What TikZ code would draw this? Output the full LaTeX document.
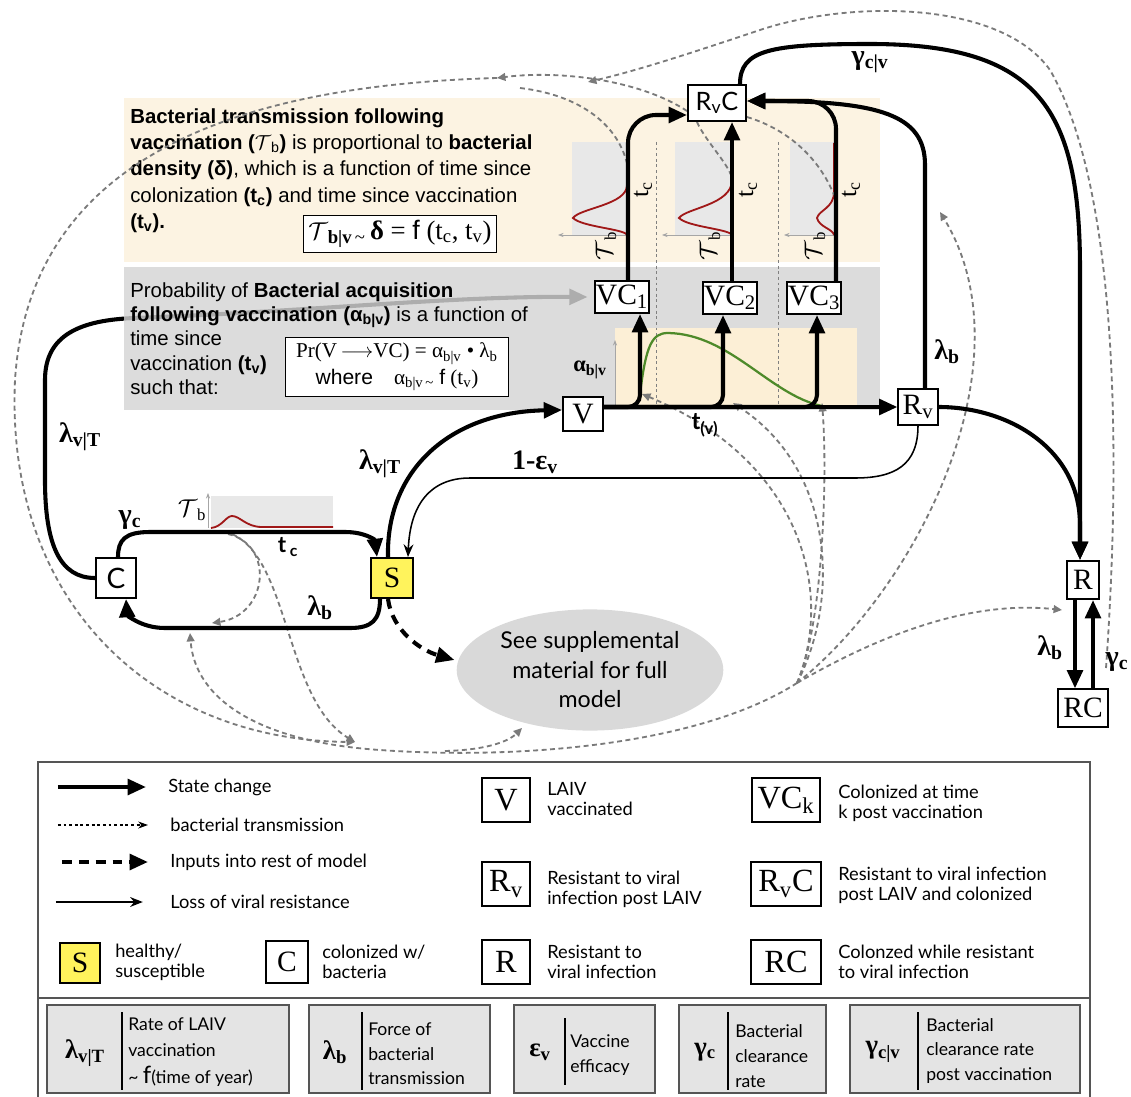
\documentclass[tikz,border=0pt]{standalone}
\usepackage{fontspec}
\setmainfont{Liberation Serif}
\setsansfont{Liberation Sans}
\newfontfamily\legendfont{Lato}
\usetikzlibrary{arrows.meta}
\usetikzlibrary{shapes.geometric}
\newcommand{\fsize}[1]{\fontsize{#1}{#1}\selectfont}
\definecolor{panelbeige}{HTML}{FCF3E2}
\definecolor{innerbeige}{HTML}{FCEFD6}
\definecolor{panelgray}{HTML}{D4D4D4}
\definecolor{plotgray}{HTML}{E8E8E8}
\definecolor{sympyellow}{HTML}{FFF35C}
\definecolor{curvered}{HTML}{A01818}
\definecolor{curvegreen}{HTML}{4E8A2A}
\definecolor{transgray}{HTML}{7A7A7A}
\definecolor{framegray}{HTML}{555555}
\definecolor{keygray}{HTML}{E4E4E4}
\definecolor{ellgray}{HTML}{D9D9D9}
\pgfdeclarelayer{under}
\pgfdeclarelayer{panel}
\pgfdeclarelayer{top}
\pgfsetlayers{under,panel,main,top}
\tikzset{
  stbox/.style={draw, line width=1.4pt, fill=white, inner sep=1pt, font=\fsize{21}},
  statechg/.style={line width=2.9pt, -{Triangle[length=13pt,width=11pt]}},
  lossres/.style={line width=1.1pt, -{Stealth[length=9pt,width=7pt]}},
  inputs/.style={line width=2.9pt, dash pattern=on 7pt off 5pt, -{Triangle[length=13pt,width=11pt]}},
  trans/.style={transgray, line width=1.3pt, dash pattern=on 3.5pt off 2.5pt, -{Triangle[length=6pt,width=5.5pt]}},
  translink/.style={transgray, line width=1.3pt, dash pattern=on 3.5pt off 2.5pt},
  ratelbl/.style={font=\bfseries\fsize{20}, inner sep=1pt},
  plotaxis/.style={gray!70, line width=0.6pt, -{Stealth[length=4pt,width=3pt]}},
  redcurve/.style={curvered, line width=1.3pt},
  lgtext/.style={font=\legendfont\fontsize{13}{14}\selectfont, align=left, anchor=west, inner sep=0pt},
  keybox/.style={draw=framegray, line width=1pt, fill=keygray, minimum height=2.2cm},
  keysym/.style={font=\bfseries\fsize{19}, inner sep=0pt},
  keytext/.style={align=left, anchor=west, inner sep=0pt},
}
\begin{document}
\begin{tikzpicture}[x=0.025cm,y=-0.025cm]
\useasboundingbox (0,0) rectangle (1131,1097);

\begin{pgfonlayer}{top}
\node (RvC) at (717,103) [stbox, font=\legendfont\fsize{18}, minimum width=1.45cm, minimum height=0.9cm] {R\textsubscript{v}C};
\node (VC1) at (622,297) [stbox, minimum width=1.25cm, minimum height=0.8cm] {VC\textsubscript{1}};
\node (VC2) at (730,298) [stbox, minimum width=1.35cm, minimum height=0.8cm] {VC\textsubscript{2}};
\node (VC3) at (814,298) [stbox, minimum width=1.3cm, minimum height=0.8cm] {VC\textsubscript{3}};
\node (V) at (583,414) [stbox, minimum width=1cm, minimum height=0.85cm] {V};
\node (Rv) at (918,407) [stbox, minimum width=0.98cm, minimum height=0.88cm] {R\textsubscript{v}};
\node (S) at (392,578) [stbox, fill=sympyellow, minimum width=1.05cm, minimum height=1cm] {S};
\node (C) at (116,578) [stbox, font=\legendfont\fsize{20}, minimum width=1cm, minimum height=1cm] {C};
\node (R) at (1083,580) [stbox, minimum width=0.8cm, minimum height=0.95cm] {R};
\node (RC) at (1083,708) [stbox, minimum width=1.25cm, minimum height=0.93cm] {RC};
\node (ell) at (590,670) [ellipse, fill=ellgray, minimum width=6cm, minimum height=2.6cm, align=center, font=\legendfont\fontsize{16.5}{21}\selectfont] {See supplemental\\material for full\\model};
\end{pgfonlayer}

\begin{pgfonlayer}{under}
\fill[panelbeige] (124,98) rectangle (880,262);
\draw[statechg] (C.west) .. controls (60,578) and (45,545) .. (45,480) -- (45,380) .. controls (45,335) and (80,320) .. (135,318) .. controls (300,312) and (450,296) .. ([xshift=-0.15cm]VC1.west);
\end{pgfonlayer}

\begin{pgfonlayer}{panel}
\fill[panelgray, fill opacity=0.82] (124,267) rectangle (880,410);
\fill[innerbeige] (615,328) rectangle (857,408);
\end{pgfonlayer}

\fill[plotgray] (572,142) rectangle (627,235);
\fill[plotgray] (675,142) rectangle (732,235);
\fill[plotgray] (790,142) rectangle (834,235);
\draw[plotaxis] (627,235) -- (558,235);
\draw[plotaxis] (732,235) -- (662,235);
\draw[plotaxis] (834,235) -- (784,235);
\draw[redcurve] (627,185) .. controls (627,205) and (580,208) .. (573,218) .. controls (582,227) and (625,229) .. (627,235);
\draw[redcurve] (732,143) -- (732,180) .. controls (732,205) and (686,208) .. (679,218) .. controls (688,227) and (729,229) .. (732,235);
\draw[redcurve] (834,143) -- (834,192) .. controls (834,208) and (819,210) .. (817,218) .. controls (819,227) and (833,229) .. (834,235);
\node (tc1) at (643,190) [rotate=90, font=\fsize{18}] {t\textsubscript{c}};
\node (tc2) at (748,190) [rotate=90, font=\fsize{18}] {t\textsubscript{c}};
\node (tc3) at (851,190) [rotate=90, font=\fsize{18}] {t\textsubscript{c}};
\node (tb1) at (606,246) [rotate=90, font=\fsize{17}] {$\mathcal{T}$\textsubscript{b}};
\node (tb2) at (710,246) [rotate=90, font=\fsize{17}] {$\mathcal{T}$\textsubscript{b}};
\node (tb3) at (815,246) [rotate=90, font=\fsize{17}] {$\mathcal{T}$\textsubscript{b}};
\draw[gray, line width=0.7pt, dash pattern=on 2pt off 2pt] (656,142) -- (656,408);
\draw[gray, line width=0.7pt, dash pattern=on 2pt off 2pt] (778,142) -- (778,408);
\draw[plotaxis] (615,408) -- (615,340);
\draw[curvegreen, line width=1.6pt] (640,394) .. controls (646,345) and (652,333) .. (668,333) .. controls (730,334) and (770,395) .. (822,406);

\node (txtrans) at (130,108) [anchor=north west, align=left, inner sep=0pt, font=\sffamily\fontsize{14.5}{18.8}\selectfont] {\textbf{Bacterial transmission following}\\ \textbf{vaccination (}$\mathcal{T}$\textsubscript{b}\textbf{)} is proportional to \textbf{bacterial}\\ \textbf{density (δ)}, which is a function of time since\\ colonization \textbf{(t\textsubscript{c})} and time since vaccination\\ \textbf{(t\textsubscript{v}).}};
\node (fbox1) at (400,234) [draw, line width=0.8pt, fill=white, minimum width=4.725cm, minimum height=0.925cm] {\fsize{19}$\mathcal{T}$\textsubscript{\textbf{b|v}\,\textasciitilde}\,\textbf{δ} = \textsf{f} (t\textsubscript{c}, t\textsubscript{v})};
\node (txacq) at (130,282) [anchor=north west, align=left, inner sep=0pt, font=\sffamily\fontsize{14.5}{17.4}\selectfont] {Probability of \textbf{Bacterial acquisition}\\ \textbf{following vaccination (α\textsubscript{b|v})} is a function of\\ time since\\ vaccination \textbf{(t\textsubscript{v})}\\ such that:};
\node (fbox2) at (397,367) [draw, line width=0.8pt, fill=white, minimum width=5.575cm, minimum height=1.475cm, align=center, font=\fontsize{15}{19}\selectfont] {Pr(V\,$\longrightarrow$VC) = α\textsubscript{b|v} • λ\textsubscript{b}\\ \textsf{where}\quad α\textsubscript{b|v\,\textasciitilde} \textsf{f} (t\textsubscript{v})};

\fill[plotgray] (211,496) rectangle (333,528);
\draw[plotaxis] (208,528) -- (208,493);
\draw[redcurve] (211,528) .. controls (222,527) and (226,516) .. (232,516) .. controls (240,516) and (246,527) .. (262,527) -- (333,527);

\coordinate (hub) at (797,683);
\draw[trans] (hub) .. controls (835,590) and (800,460) .. (642,394);
\draw[trans] (hub) .. controls (840,600) and (835,470) .. (733,403);
\draw[trans] (hub) .. controls (822,630) and (828,480) .. (822,403);
\draw[trans] (hub) .. controls (920,585) and (1030,360) .. (940,212);
\draw[trans] (hub) .. controls (880,635) and (970,600) .. (1062,610);
\draw[trans] (hub) .. controls (700,745) and (520,760) .. (380,750) .. controls (260,742) and (195,700) .. (190,633);
\draw[trans] (445,751) .. controls (485,750) and (508,742) .. (522,728);
\draw[trans] (228,534) .. controls (275,545) and (268,615) .. (212,623);
\draw[trans] (232,534) .. controls (290,560) and (285,700) .. (355,742);
\draw[trans] ([yshift=-0.2cm]RvC.west) .. controls (640,80) and (560,70) .. (497,78);
\draw[trans] (497,78) .. controls (250,85) and (30,150) .. (15,380) .. controls (5,600) and (150,740) .. (355,742);
\draw[trans] (1106,668) .. controls (1118,500) and (1125,200) .. (1050,70) .. controls (1000,0) and (850,0) .. (760,30) .. controls (700,50) and (640,70) .. (588,82);
\draw[translink] (520,88) .. controls (580,95) and (620,125) .. (628,168);
\draw[translink] ([xshift=-0.5cm]RvC.south) .. controls (705,140) and (725,160) .. (731,175);
\draw[translink] ([yshift=-0.35cm]RvC.east) .. controls (790,130) and (820,160) .. (834,195);

\draw[statechg] (V.east |- Rv.west) -- (Rv.west);
\draw[statechg, rounded corners=0.3cm] (V.east |- Rv.west) -| ([xshift=0.45cm]VC1.south);
\draw[statechg, rounded corners=0.3cm] (V.east |- Rv.west) -| ([xshift=-0.175cm]VC2.south);
\draw[statechg, rounded corners=0.3cm] (V.east |- Rv.west) -| ([xshift=0.075cm]VC3.south);
\draw[statechg, rounded corners=0.7cm] ([xshift=0.15cm]VC1.north) |- ([yshift=-0.3cm]RvC.west);
\draw[statechg] ([xshift=0.05cm]VC2.north) -- ([xshift=0.05cm]VC2.north |- RvC.south);
\draw[statechg, rounded corners=0.7cm] ([xshift=0.55cm]VC3.north) |- ([yshift=0.05cm]RvC.east);
\draw[statechg] ([xshift=0.175cm]Rv.north) -- (925,165) .. controls (925,115) and (880,101) .. ([yshift=0.05cm]RvC.east);
\draw[statechg] ([xshift=0.575cm]RvC.north) .. controls (740,50) and (770,44) .. (870,44) .. controls (1040,44) and (1080,110) .. (1080,270) -- ([xshift=-0.075cm]R.north);
\draw[statechg] (Rv.east) .. controls (1010,407) and (1080,450) .. (1080,525) -- ([xshift=-0.075cm]R.north);
\draw[lossres] (Rv.south) .. controls (918,465) and (895,478) .. (855,478) -- (470,478) .. controls (430,478) and (410,505) .. ([xshift=0.4cm]S.north);
\draw[statechg] ([xshift=-0.1cm]S.north) .. controls (386,470) and (450,412) .. ([yshift=0.1cm]V.west);
\draw[statechg] ([xshift=0.05cm]C.north) .. controls (118,540) and (125,532) .. (150,532) -- (345,532) .. controls (365,532) and (375,540) .. ([xshift=-0.375cm]S.north);
\draw[statechg] ([xshift=-0.3cm]S.south) .. controls (380,620) and (372,628) .. (350,628) -- (165,628) .. controls (140,628) and (127,614) .. ([xshift=0.25cm]C.south);
\draw[inputs] ([xshift=-0.1cm]S.south) .. controls (392,630) and (420,650) .. ([xshift=-0.05cm,yshift=0.25cm]ell.west);
\draw[statechg] ([xshift=-0.2cm]R.south) -- ([xshift=-0.2cm]R.south |- RC.north);
\draw[statechg] ([xshift=0.25cm]RC.north) -- ([xshift=0.25cm]RC.north |- R.south);

\node (lbgcv) at (870,62) [ratelbl] {γ\textsubscript{c|v}};
\node (lblbRv) at (947,352) [ratelbl] {λ\textsubscript{b}};
\node (lbeps) at (535,462) [ratelbl] {1-ε\textsubscript{v}};
\node (lblvS) at (380,464) [ratelbl] {λ\textsubscript{v|T}};
\node (lblvC) at (80,437) [ratelbl] {λ\textsubscript{v|T}};
\node (lbgc) at (130,520) [ratelbl] {γ\textsubscript{c}};
\node (lblbS) at (320,608) [ratelbl] {λ\textsubscript{b}};
\node (lblbR) at (1050,648) [ratelbl] {λ\textsubscript{b}};
\node (lbgcR) at (1117,662) [ratelbl] {γ\textsubscript{c}};
\node (lbtv) at (705,425) [font=\legendfont\bfseries\fsize{17}] {t\textsubscript{(v)}};
\node (lbtc) at (288,547) [font=\legendfont\bfseries\fsize{16}] {t\,\textsubscript{c}};
\node (lbab) at (590,370) [font=\bfseries\fsize{16}] {α\textsubscript{b|v}};
\node (lbTb) at (192,510) [font=\fsize{17}] {$\mathcal{T}$\textsubscript{b}};

\draw[framegray, line width=1.6pt] (38,1097) -- (38,762) -- (1090,762) -- (1090,1097);
\draw[framegray, line width=1.6pt] (38,998) -- (1090,998);

\node (lgA) at (168,787) [lgtext] {State change};
\draw[statechg] ([xshift=-2.75cm]lgA.west) -- ([xshift=-0.55cm]lgA.west);
\node (lgB) at (170,825) [lgtext] {bacterial transmission};
\draw[line width=0.8pt, dash pattern=on 2pt off 2pt, -{Stealth[length=7pt,width=5pt]}] ([xshift=-2.8cm]lgB.west) -- ([xshift=-0.55cm]lgB.west);
\node (lgI) at (170,862) [lgtext] {Inputs into rest of model};
\draw[inputs] ([xshift=-2.7cm]lgI.west) -- ([xshift=-0.55cm]lgI.west);
\node (lgL) at (170,902) [lgtext] {Loss of viral resistance};
\draw[lossres] ([xshift=-2.85cm]lgL.west) -- ([xshift=-0.68cm]lgL.west);

\node (lgS) at (80,963) [stbox, fill=sympyellow, minimum width=1cm, minimum height=1cm] {S};
\node (lgSt) at (115,962) [lgtext] {healthy/\\susceptible};
\node (lgC) at (287,962) [stbox, minimum width=1.05cm, minimum height=1.05cm] {C};
\node (lgCt) at (322,962) [lgtext] {colonized w/\\bacteria};
\node (lgV) at (506,800) [stbox, font=\fsize{23}, minimum width=1.2cm, minimum height=1.1cm] {V};
\node (lgVt) at (547,799) [lgtext] {LAIV\\vaccinated};
\node (lgRv) at (506,884) [stbox, font=\fsize{23}, minimum width=1.2cm, minimum height=1.1cm] {R\textsubscript{v}};
\node (lgRvt) at (547,889) [lgtext] {Resistant to viral\\infection post LAIV};
\node (lgR) at (506,962) [stbox, font=\fsize{23}, minimum width=1.2cm, minimum height=1.1cm] {R};
\node (lgRt) at (547,962) [lgtext] {Resistant to\\viral infection};
\node (lgVC) at (786,800) [stbox, font=\fsize{23}, minimum width=1.7cm, minimum height=1.1cm] {VC\textsubscript{k}};
\node (lgVCt) at (838,803) [lgtext] {Colonized at time\\k post vaccination};
\node (lgRvC) at (786,884) [stbox, font=\fsize{23}, minimum width=1.75cm, minimum height=1.1cm] {R\textsubscript{v}C};
\node (lgRvCt) at (838,885) [lgtext] {Resistant to viral infection\\post LAIV and colonized};
\node (lgRC) at (786,962) [stbox, font=\fsize{23}, minimum width=1.75cm, minimum height=1.1cm] {RC};
\node (lgRCt) at (838,962) [lgtext] {Colonzed while resistant\\to viral infection};

\node (key1) at (168,1049) [keybox, minimum width=6.05cm] {};
\node (key1s) at (85,1053) [keysym] {λ\textsubscript{v|T}};
\draw[line width=0.8pt] (122,1012) -- (122,1090);
\node (key1t) at (128,1052) [keytext, font=\legendfont\fontsize{12.5}{19}\selectfont] {Rate of LAIV\\vaccination\\\textasciitilde\ {\fsize{17}f}(time of year)};
\node (key2) at (399.5,1049) [keybox, minimum width=4.525cm] {};
\node (key2s) at (335,1052) [keysym] {λ\textsubscript{b}};
\draw[line width=0.8pt] (362,1012) -- (362,1090);
\node (key2t) at (368,1054) [keytext, font=\legendfont\fontsize{12.5}{17.5}\selectfont] {Force of\\bacterial\\transmission};
\node (key3) at (584.5,1049) [keybox, minimum width=3.525cm] {};
\node (key3s) at (540,1052) [keysym] {ε\textsubscript{v}};
\draw[line width=0.8pt] (565,1018) -- (565,1085);
\node (key3t) at (570,1055) [keytext, font=\legendfont\fontsize{12.5}{17.5}\selectfont] {Vaccine\\efficacy};
\node (key4) at (752.5,1049) [keybox, minimum width=3.675cm] {};
\node (key4s) at (705,1052) [keysym] {γ\textsubscript{c}};
\draw[line width=0.8pt] (728,1012) -- (728,1090);
\node (key4t) at (735,1056) [keytext, font=\legendfont\fontsize{12.5}{17.5}\selectfont] {Bacterial\\clearance\\rate};
\node (key5) at (965,1049) [keybox, minimum width=5.75cm] {};
\node (key5s) at (883,1052) [keysym] {γ\textsubscript{c|v}};
\draw[line width=0.8pt] (918,1012) -- (918,1090);
\node (key5t) at (926,1051) [keytext, font=\legendfont\fontsize{12.5}{17.5}\selectfont] {Bacterial\\clearance rate\\post vaccination};
\end{tikzpicture}
\end{document}
